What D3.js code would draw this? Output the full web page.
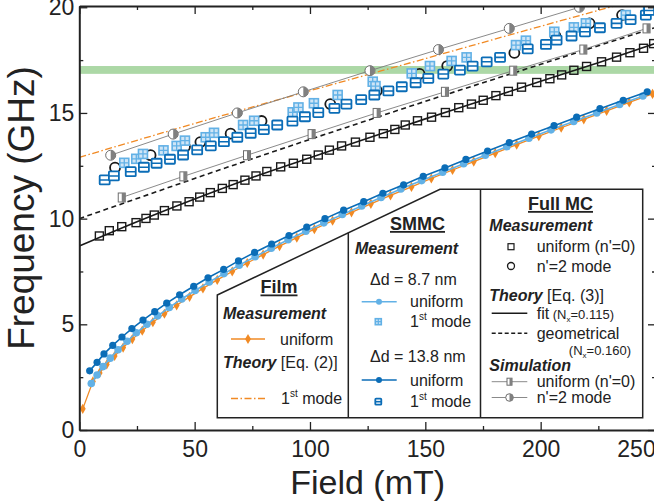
<!DOCTYPE html>
<html>
<head>
<meta charset="utf-8">
<script src="https://d3js.org/d3.v7.min.js"></script>
<style>
  body { margin: 0; background: #fff; }
  svg { display: block; font-family: "Liberation Sans", Arial, sans-serif; }
</style>
</head>
<body>
<svg id="chart" width="654" height="504"></svg>
<script>
// ---- data: [field (mT), frequency (GHz)] ----
const filmUniform = [
  [1.5, 1.0], [5.9, 2.3], [8.8, 2.7], [11.9, 3.1], [15.3, 3.5], [19.0, 3.9],
  [23.0, 4.3], [27.3, 4.7], [31.9, 5.1], [36.9, 5.5], [42.2, 5.9], [47.8, 6.3],
  [53.6, 6.7], [59.8, 7.1], [66.3, 7.5], [72.8, 7.9], [79.7, 8.3], [86.8, 8.7],
  [94.3, 9.1], [101.9, 9.5], [109.8, 9.9], [118.0, 10.3], [126.4, 10.7],
  [134.9, 11.1], [144.0, 11.5], [152.6, 11.9], [161.8, 12.3], [171.0, 12.7],
  [180.3, 13.1], [189.6, 13.5], [199.2, 13.9], [208.9, 14.3], [218.7, 14.7],
  [228.6, 15.1], [238.4, 15.5], [248.5, 15.9],
];
const filmTheory = [[0, 12.9], [50, 14.5], [100, 16.05], [150, 17.57], [200, 19.1], [250, 20.6]];

const smmc87Uniform = [
  [5.2, 2.2], [7.7, 2.6], [10.3, 3.0], [13.4, 3.4], [16.8, 3.8], [20.7, 4.2],
  [24.7, 4.6], [29.3, 5.0], [34.0, 5.4], [39.0, 5.8], [44.4, 6.2], [50.2, 6.6],
  [56.3, 7.0], [62.7, 7.4], [69.3, 7.8], [76.2, 8.2], [83.2, 8.6], [90.5, 9.0],
  [98.2, 9.4], [106.0, 9.8], [114.0, 10.2], [122.4, 10.6], [130.8, 11.0],
  [139.4, 11.4], [148.4, 11.8], [157.5, 12.2], [166.6, 12.6], [176.0, 13.0],
  [185.3, 13.4], [194.9, 13.8], [204.5, 14.2], [214.3, 14.6], [224.3, 15.0],
  [234.2, 15.4], [244.3, 15.8],
];
const smmc138Uniform = [
  [4.5, 2.8], [7.7, 3.2], [10.7, 3.6], [14.5, 4.0], [18.5, 4.4], [22.8, 4.8],
  [27.6, 5.2], [32.7, 5.6], [37.9, 6.0], [43.5, 6.4], [49.6, 6.8], [55.8, 7.2],
  [62.6, 7.6], [69.0, 8.0], [76.0, 8.4], [83.4, 8.8], [90.9, 9.2], [98.6, 9.6],
  [106.5, 10.0], [114.6, 10.4], [123.3, 10.8], [131.6, 11.2], [140.6, 11.6],
  [149.1, 12.0], [158.5, 12.4], [167.6, 12.8], [177.0, 13.2], [186.4, 13.6],
  [196.1, 14.0], [205.8, 14.4], [215.6, 14.8], [225.7, 15.2], [235.8, 15.6],
  [246.2, 16.0],
];
const smmc87Mode1 = [
  [19.5, 12.64], [24.7, 12.83], [27.6, 13.06], [36.5, 13.23], [42.2, 13.44],
  [45.8, 13.69], [54.8, 13.85], [58.4, 14.06], [71.0, 14.43], [75.8, 14.63],
  [92.5, 15.03], [95.0, 15.26], [101.7, 15.46], [112.0, 15.85], [127.2, 16.48],
  [128.4, 16.27], [144.1, 16.87], [152.0, 17.22], [161.4, 17.46], [167.9, 17.63],
  [189.3, 18.21], [193.6, 18.42], [205.9, 18.84], [214.4, 19.05], [219.6, 19.24],
  [236.9, 19.63], [246.6, 19.95],
];
const smmc138Mode1 = [
  [11.0, 11.83], [15.0, 12.02], [22.3, 12.22], [28.0, 12.43], [33.5, 12.62],
  [39.3, 12.81], [45.0, 13.01], [51.1, 13.25], [57.0, 13.44], [62.7, 13.64],
  [68.5, 13.85], [74.3, 14.04], [80.0, 14.21], [85.8, 14.43], [92.4, 14.61],
  [97.8, 14.82], [103.6, 15.02], [110.6, 15.22], [115.8, 15.42], [122.2, 15.63],
  [127.9, 15.85], [134.0, 16.04], [139.8, 16.24], [145.8, 16.43], [151.3, 16.64],
  [157.8, 16.84], [165.0, 17.03], [170.5, 17.22], [176.6, 17.42], [182.4, 17.63],
  [194.4, 18.03], [202.3, 18.24], [206.9, 18.45], [213.4, 18.64], [219.2, 18.84],
  [225.7, 19.03], [232.9, 19.24], [239.0, 19.42], [245.6, 19.63], [247.0, 19.85],
];

const fullUniform = [
  [8.7, 9.18], [13.0, 9.43], [18.4, 9.62], [24.6, 9.81], [28.9, 10.01], [32.5, 10.17],
  [36.9, 10.38], [42.3, 10.6], [47.6, 10.8], [52.2, 11.02], [56.8, 11.23], [62.0, 11.43],
  [66.7, 11.61], [71.8, 11.82], [76.6, 12.02], [81.3, 12.23], [87.3, 12.45], [92.8, 12.62],
  [98.6, 12.81], [103.6, 13.01], [108.4, 13.24], [113.7, 13.44], [119.7, 13.62],
  [126.0, 13.85], [131.8, 14.02], [136.8, 14.22], [141.3, 14.43], [146.6, 14.63],
  [152.7, 14.8], [158.7, 15.02], [164.5, 15.25], [170.0, 15.42], [175.1, 15.6],
  [180.6, 15.82], [186.0, 16.02], [191.7, 16.22], [198.3, 16.44], [204.0, 16.62],
  [209.1, 16.8], [214.4, 17.02], [219.9, 17.2], [226.4, 17.42], [232.9, 17.64],
  [238.7, 17.85], [244.6, 18.06], [249.0, 18.28],
];
const fullMode2 = [
  [15.5, 12.41], [30.9, 13.0], [45.8, 13.4], [52.5, 13.62], [65.6, 14.02], [79.0, 14.62],
  [108.8, 15.42], [129.0, 16.05], [147.5, 16.85], [159.5, 17.22], [188.6, 17.84],
  [206.4, 18.64], [221.2, 19.24], [235.3, 19.63],
];
const fitTheory = [
  [0, 8.7], [25, 9.85], [50, 10.93], [75, 11.95], [100, 12.88], [125, 13.8],
  [150, 14.72], [175, 15.6], [200, 16.5], [225, 17.38], [250, 18.3],
];
const geomTheory = [
  [0, 10.0], [25, 10.95], [50, 11.9], [75, 12.83], [100, 13.75], [125, 14.65],
  [150, 15.55], [175, 16.43], [200, 17.3], [225, 18.18], [250, 19.05],
];
const simUniform = [
  [18.4, 11], [45.1, 12], [72.7, 13], [100.7, 14], [128.9, 15],
  [158.5, 16], [188.1, 17], [218.5, 18], [245.9, 19],
];
const simMode2 = [
  [13.6, 13], [40.7, 14], [68.5, 15], [97.1, 16], [126.0, 17],
  [155.7, 18], [186.4, 19], [216.8, 20],
];
const band = [16.85, 17.22];

const xMajor = [0, 50, 100, 150, 200, 250];
const xMinor = [25, 75, 125, 175, 225];
const yMajor = [0, 5, 10, 15, 20];
const yMinor = [2.5, 7.5, 12.5, 17.5];

// ---- colours ----
const ORANGE = "#f18a24";
const LIGHT = "#62b1e6";
const DARK = "#0b6db7";
const GRAY = "#7d7d7d";
const INK = "#1a1a1a";

const svg = d3.select("#chart");
const x = d3.scaleLinear().domain([0, 250]).range([79.3, 656]);
const y = d3.scaleLinear().domain([0, 20.06]).range([430, 6]);

svg.append("defs").append("clipPath").attr("id", "clip")
  .append("rect")
  .attr("x", x(0)).attr("y", y(20.06))
  .attr("width", x(250) - x(0)).attr("height", y(0) - y(20.06));

const plot = svg.append("g").attr("clip-path", "url(#clip)");

// green frequency band
plot.append("rect")
  .attr("x", x(0)).attr("width", x(250) - x(0))
  .attr("y", y(band[1])).attr("height", y(band[0]) - y(band[1]))
  .attr("fill", "#acd8a6");

const line = d3.line().x((d) => x(d[0])).y((d) => y(d[1]));
const smooth = d3.line().x((d) => x(d[0])).y((d) => y(d[1])).curve(d3.curveMonotoneX);

function path(g, data, gen, stroke, width, dash) {
  return g.append("path")
    .datum(data)
    .attr("d", gen)
    .attr("fill", "none")
    .attr("stroke", stroke)
    .attr("stroke-width", width)
    .attr("stroke-dasharray", dash || null);
}

// markers
function halfSquare(g, cx, cy, w, h) {
  g.append("rect").attr("x", cx - w / 2).attr("y", cy - h / 2).attr("width", w).attr("height", h)
    .attr("fill", "#fff").attr("stroke", "#6d6d6d").attr("stroke-width", 1);
  g.append("rect").attr("x", cx).attr("y", cy - h / 2).attr("width", w / 2).attr("height", h)
    .attr("fill", "#808080");
}
function halfCircle(g, cx, cy, r) {
  g.append("circle").attr("cx", cx).attr("cy", cy).attr("r", r)
    .attr("fill", "#fff").attr("stroke", "#6d6d6d").attr("stroke-width", 1);
  g.append("path")
    .attr("d", `M${cx},${cy - r}A${r},${r} 0 0,1 ${cx},${cy + r}Z`)
    .attr("fill", "#808080");
}
function gridSquare(g, cx, cy, s) {
  g.append("rect").attr("x", cx - s / 2).attr("y", cy - s / 2).attr("width", s).attr("height", s)
    .attr("fill", "#cfe5f6").attr("stroke", LIGHT).attr("stroke-width", 1.6);
  g.append("path")
    .attr("d", `M${cx - s / 2},${cy}H${cx + s / 2}M${cx},${cy - s / 2}V${cy + s / 2}`)
    .attr("stroke", LIGHT).attr("stroke-width", 1.3);
}
function barSquare(g, cx, cy, w, h) {
  g.append("rect").attr("x", cx - w / 2).attr("y", cy - h / 2).attr("width", w).attr("height", h)
    .attr("fill", "#fff").attr("stroke", DARK).attr("stroke-width", 1.8).attr("rx", 0.8);
  g.append("path").attr("d", `M${cx - w / 2},${cy}H${cx + w / 2}`)
    .attr("stroke", DARK).attr("stroke-width", 1.6);
}
const diamond = d3.symbol().type(d3.symbolDiamond).size(30);

// ---- theory lines ----
path(plot, geomTheory, smooth, INK, 1.6, "5,3.5");
path(plot, fitTheory, smooth, INK, 1.6);
path(plot, filmTheory, smooth, ORANGE, 1.3, "7,2.5,1.5,2.5");

// ---- simulation ----
path(plot, simUniform, line, GRAY, 0.9);
path(plot, simMode2, line, GRAY, 0.9);
simUniform.forEach((d) => halfSquare(plot, x(d[0]), y(d[1]), 7, 9));
simMode2.forEach((d) => halfCircle(plot, x(d[0]), y(d[1]), 5));

// ---- full MC measurement ----
plot.append("g").selectAll("rect").data(fullUniform).join("rect")
  .attr("x", (d) => x(d[0]) - 4).attr("y", (d) => y(d[1]) - 4)
  .attr("width", 8).attr("height", 8)
  .attr("fill", "none").attr("stroke", INK).attr("stroke-width", 1.4);
plot.append("g").selectAll("circle").data(fullMode2).join("circle")
  .attr("cx", (d) => x(d[0])).attr("cy", (d) => y(d[1])).attr("r", 5)
  .attr("fill", "none").attr("stroke", INK).attr("stroke-width", 1.8);

// ---- SMMC 1st modes ----
smmc87Mode1.forEach((d) => gridSquare(plot, x(d[0]), y(d[1]), 9));
smmc138Mode1.forEach((d) => barSquare(plot, x(d[0]), y(d[1]), 10, 9));

// ---- uniform modes (film + SMMC) ----
path(plot, filmUniform, line, ORANGE, 1.3);
plot.append("g").selectAll("path").data(filmUniform).join("path")
  .attr("transform", (d) => `translate(${x(d[0])},${y(d[1])})`)
  .attr("d", diamond).attr("fill", ORANGE);
path(plot, smmc87Uniform, line, LIGHT, 1.6);
plot.append("g").selectAll("circle").data(smmc87Uniform).join("circle")
  .attr("cx", (d) => x(d[0])).attr("cy", (d) => y(d[1])).attr("r", 3.8).attr("fill", LIGHT);
path(plot, smmc138Uniform, line, DARK, 1.6);
plot.append("g").selectAll("circle").data(smmc138Uniform).join("circle")
  .attr("cx", (d) => x(d[0])).attr("cy", (d) => y(d[1])).attr("r", 3.6).attr("fill", DARK);

// ---- axes ----
function styleAxis(g) {
  g.select(".domain").attr("stroke", "#222").attr("stroke-width", 2);
  g.selectAll(".tick line").attr("stroke", "#222").attr("stroke-width", 1.3);
  g.selectAll("text").attr("font-size", 23).attr("fill", "#222")
    .attr("font-family", "Liberation Sans, Arial, sans-serif");
}
const gx = svg.append("g").attr("transform", `translate(0,${y(0)})`)
  .call(d3.axisBottom(x).tickValues(xMajor).tickSizeInner(-8).tickSizeOuter(0).tickPadding(10.5))
  .call(styleAxis);
gx.selectAll(".tick text").filter((d) => d === 250).attr("dx", -20);
svg.append("g").attr("transform", `translate(0,${y(0)})`)
  .call(d3.axisBottom(x).tickValues(xMinor).tickSize(-4).tickFormat(""))
  .call(styleAxis).select(".domain").remove();
svg.append("g").attr("transform", `translate(0,${y(20.06)})`)
  .call(d3.axisTop(x).tickValues(xMajor).tickSizeInner(-8).tickSizeOuter(0).tickFormat(""))
  .call(styleAxis);
svg.append("g").attr("transform", `translate(0,${y(20.06)})`)
  .call(d3.axisTop(x).tickValues(xMinor).tickSize(-4).tickFormat(""))
  .call(styleAxis).select(".domain").remove();

svg.append("g").attr("transform", `translate(${x(0)},0)`)
  .call(d3.axisLeft(y).tickValues(yMajor).tickSizeInner(-8).tickSizeOuter(0).tickPadding(5))
  .call(styleAxis);
svg.append("g").attr("transform", `translate(${x(0)},0)`)
  .call(d3.axisLeft(y).tickValues(yMinor).tickSize(-4).tickFormat(""))
  .call(styleAxis).select(".domain").remove();
svg.append("g").attr("transform", `translate(${x(250)},0)`)
  .call(d3.axisRight(y).tickValues(yMajor).tickSizeInner(-8).tickSizeOuter(0).tickFormat(""))
  .call(styleAxis);
svg.append("g").attr("transform", `translate(${x(250)},0)`)
  .call(d3.axisRight(y).tickValues(yMinor).tickSize(-4).tickFormat(""))
  .call(styleAxis).select(".domain").remove();

svg.append("text")
  .attr("x", (x(0) + x(250)) / 2).attr("y", 494)
  .attr("text-anchor", "middle").attr("font-size", 34).attr("fill", "#222")
  .text("Field (mT)");
svg.append("text")
  .attr("transform", "translate(34,208) rotate(-90)")
  .attr("text-anchor", "middle").attr("font-size", 37).attr("fill", "#222")
  .text("Frequency (GHz)");

// ---- legend ----
const leg = svg.append("g");
leg.append("path")
  .attr("d", "M217.3,295L440,189.3H642.7V417.7H217.3Z")
  .attr("fill", "#fff").attr("stroke", "#222").attr("stroke-width", 1.5);
leg.append("path")
  .attr("d", "M348.3,232.8V417.7M480.5,189.3V417.7")
  .attr("fill", "none").attr("stroke", "#222").attr("stroke-width", 1.5);

// yp is the vertical centre of the text row; baseline is placed explicitly
function label(xp, yp, parts, opts = {}) {
  const size = opts.size || 16;
  const t = leg.append("text")
    .attr("x", xp).attr("y", yp + size * 0.36)
    .attr("font-size", size)
    .attr("fill", "#222")
    .attr("text-anchor", opts.anchor || "start");
  parts.forEach((p) => {
    const s = t.append("tspan").text(p.t);
    if (p.b) s.attr("font-weight", "bold");
    if (p.i) s.attr("font-style", "italic");
    if (p.size) s.attr("font-size", p.size);
    if (p.dy) s.attr("dy", p.dy);
    if (p.u) s.attr("text-decoration", "underline");
  });
  return t;
}
const firstMode = [{ t: "1" }, { t: "st", size: 10, dy: -7 }, { t: " mode", dy: 7 }];

// Film
label(279, 287, [{ t: "Film", b: true, u: true }], { size: 18, anchor: "middle" });
label(223, 313.5, [{ t: "Measurement", b: true, i: true }]);
leg.append("line").attr("x1", 231).attr("x2", 265).attr("y1", 339).attr("y2", 339)
  .attr("stroke", ORANGE).attr("stroke-width", 1.3);
leg.append("path").attr("transform", "translate(248,339)").attr("d", diamond).attr("fill", ORANGE);
label(280, 339, [{ t: "uniform" }]);
label(223, 362, [{ t: "Theory", b: true, i: true }, { t: " [Eq. (2)]" }]);
leg.append("line").attr("x1", 231).attr("x2", 265).attr("y1", 398.5).attr("y2", 398.5)
  .attr("stroke", ORANGE).attr("stroke-width", 1.3).attr("stroke-dasharray", "7,2.5,1.5,2.5");
label(281, 398.5, firstMode);

// SMMC
label(417.5, 223.5, [{ t: "SMMC", b: true, u: true }], { size: 18, anchor: "middle" });
label(355, 248.5, [{ t: "Measurement", b: true, i: true }]);
label(370, 279.5, [{ t: "Δd = 8.7 nm" }]);
leg.append("line").attr("x1", 361.7).attr("x2", 396.7).attr("y1", 301.7).attr("y2", 301.7)
  .attr("stroke", LIGHT).attr("stroke-width", 1.6);
leg.append("circle").attr("cx", 379).attr("cy", 301.7).attr("r", 3).attr("fill", LIGHT);
label(410, 301.7, [{ t: "uniform" }]);
gridSquare(leg, 378.3, 321.7, 6);
label(410, 321.7, firstMode);
label(370, 356.7, [{ t: "Δd = 13.8 nm" }]);
leg.append("line").attr("x1", 361.7).attr("x2", 396.7).attr("y1", 380).attr("y2", 380)
  .attr("stroke", DARK).attr("stroke-width", 1.6);
leg.append("circle").attr("cx", 379).attr("cy", 380).attr("r", 3).attr("fill", DARK);
label(410, 380, [{ t: "uniform" }]);
barSquare(leg, 378.3, 401.7, 6, 6);
label(410, 401.7, firstMode);

// Full MC
label(560.5, 203.5, [{ t: "Full MC", b: true, u: true }], { size: 18, anchor: "middle" });
label(489.3, 225, [{ t: "Measurement", b: true, i: true }]);
leg.append("rect").attr("x", 508).attr("y", 243.7).attr("width", 6).attr("height", 6)
  .attr("fill", "none").attr("stroke", INK).attr("stroke-width", 1.2);
label(536.7, 246.7, [{ t: "uniform (n'=0)" }]);
leg.append("circle").attr("cx", 511).attr("cy", 266).attr("r", 3.5)
  .attr("fill", "none").attr("stroke", INK).attr("stroke-width", 1.3);
label(536.7, 266, [{ t: "n'=2 mode" }]);
label(489.3, 295, [{ t: "Theory", b: true, i: true }, { t: " [Eq. (3)]" }]);
leg.append("line").attr("x1", 491.7).attr("x2", 527.3).attr("y1", 313.3).attr("y2", 313.3)
  .attr("stroke", INK).attr("stroke-width", 1.6);
label(536.7, 313.3, [
  { t: "fit" }, { t: "  (N", size: 13 }, { t: "x", size: 8, dy: 3 }, { t: "=0.115)", size: 13, dy: -3 },
]);
leg.append("line").attr("x1", 491.7).attr("x2", 527.3).attr("y1", 333.3).attr("y2", 333.3)
  .attr("stroke", INK).attr("stroke-width", 1.6).attr("stroke-dasharray", "4,2.5");
label(536.7, 333.3, [{ t: "geometrical" }]);
label(631, 350, [{ t: "(N" }, { t: "x", size: 8, dy: 3 }, { t: "=0.160)", dy: -3 }], { size: 13, anchor: "end" });
label(489.3, 365.5, [{ t: "Simulation", b: true, i: true }]);
leg.append("line").attr("x1", 491.7).attr("x2", 527.3).attr("y1", 381.7).attr("y2", 381.7)
  .attr("stroke", GRAY).attr("stroke-width", 0.9);
halfSquare(leg, 509.5, 381.7, 5, 7);
label(536.7, 381.7, [{ t: "uniform (n'=0)" }]);
leg.append("line").attr("x1", 491.7).attr("x2", 527.3).attr("y1", 397.5).attr("y2", 397.5)
  .attr("stroke", GRAY).attr("stroke-width", 0.9);
halfCircle(leg, 509.5, 397.5, 3.8);
label(536.7, 397.5, [{ t: "n'=2 mode" }]);
</script>
</body>
</html>
